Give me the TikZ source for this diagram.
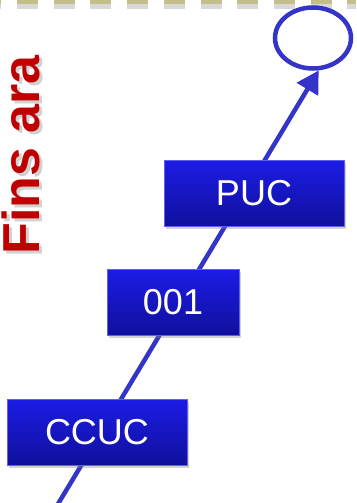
\documentclass[tikz,border=0pt]{standalone}
\usepackage{fontspec}
\setmainfont{Liberation Sans}
\usetikzlibrary{shapes.geometric,shadows,arrows.meta}
\definecolor{boxtop}{HTML}{1C1CE6}
\definecolor{boxbot}{HTML}{10109C}
\definecolor{linblue}{HTML}{3434C8}
\definecolor{titred}{HTML}{C00000}
\definecolor{olive}{HTML}{C4BE88}

\begin{document}
\begin{tikzpicture}[x=1pt,y=-1pt,
	box/.style={rectangle,draw=boxtop!70!white,line width=0.6pt,top color=boxtop,bottom color=boxbot,
		text=white,font=\fontsize{36}{36}\selectfont,minimum height=66pt,inner sep=0pt,
		drop shadow={shadow xshift=2pt,shadow yshift=-3pt,opacity=0.35}}]
	\useasboundingbox (0,0) rectangle (356,503);
	\clip (0,0) rectangle (356,503);
	% frame at the top
	\draw[gray!60,opacity=0.5,line width=6pt,dash pattern=on 21pt off 15.7pt,dash phase=19.7pt] (0,6) -- (356,6);
	\draw[olive,line width=9pt,dash pattern=on 21pt off 15.7pt,dash phase=19.7pt] (0,0) -- (356,0);
	% title
	\node[rotate=90,text=gray!60,opacity=0.6,font=\bfseries\fontsize{52}{52}\selectfont] at (24,158) {Fins ara};
	\node[rotate=90,text=titred,font=\bfseries\fontsize{52}{52}\selectfont] (t) at (21,155) {Fins ara};
	% target and arrow
	\node[ellipse,draw=linblue,line width=4.5pt,minimum width=76pt,minimum height=61pt] (e) at (313,38) {};
	\coordinate (s) at (58,504);
	\draw[linblue,line width=4.5pt,-{Triangle[length=22pt,width=24pt]}] (s) -- (e.-80);
	% steps
	\node[box,minimum width=180pt] (c) at (97,432) {CCUC};
	\node[box,minimum width=132pt] (o) at (173,302) {001};
	\node[box,minimum width=180pt] (p) at (254,193) {PUC};
\end{tikzpicture}
\end{document}
